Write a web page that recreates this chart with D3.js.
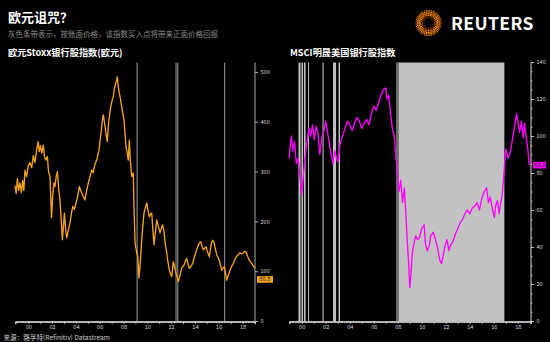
<!DOCTYPE html>
<html><head><meta charset="utf-8">
<script src="https://cdn.jsdelivr.net/npm/d3@7"></script>
<style>
html,body{margin:0;padding:0;background:#000;}
svg{display:block;}
text{font-family:"Noto Sans CJK SC","Open Sans","Noto Sans",sans-serif;}
</style></head><body>
<svg id="chart" width="550" height="342"></svg>
<script>
// Euro Stoxx banks index (EUR), decimal years
const euroYears = [1998.88,1998.98,1999.08,1999.18,1999.30,1999.42,1999.52,1999.62,1999.72,1999.85,2000.00,2000.14,2000.28,2000.42,2000.55,2000.71,2000.82,2000.92,2001.02,2001.13,2001.26,2001.36,2001.46,2001.60,2001.70,2001.82,2001.95,2002.05,2002.15,2002.24,2002.34,2002.44,2002.56,2002.66,2002.76,2002.86,2002.95,2003.03,2003.13,2003.23,2003.36,2003.50,2003.62,2003.73,2003.87,2004.01,2004.15,2004.29,2004.39,2004.49,2004.62,2004.76,2004.90,2005.04,2005.18,2005.33,2005.45,2005.55,2005.65,2005.75,2005.85,2005.94,2006.02,2006.11,2006.20,2006.30,2006.38,2006.45,2006.55,2006.64,2006.72,2006.81,2006.91,2007.01,2007.08,2007.14,2007.22,2007.31,2007.40,2007.48,2007.56,2007.65,2007.75,2007.85,2007.95,2008.04,2008.12,2008.21,2008.32,2008.40,2008.49,2008.55,2008.69,2008.82,2008.88,2008.97,2009.11,2009.20,2009.30,2009.42,2009.53,2009.62,2009.72,2009.84,2009.95,2010.06,2010.17,2010.27,2010.37,2010.46,2010.56,2010.68,2010.79,2010.93,2011.07,2011.18,2011.29,2011.40,2011.49,2011.56,2011.63,2011.74,2011.85,2011.95,2012.05,2012.12,2012.18,2012.30,2012.41,2012.51,2012.61,2012.75,2012.89,2012.98,2013.08,2013.20,2013.31,2013.42,2013.53,2013.68,2013.82,2013.95,2014.09,2014.19,2014.29,2014.39,2014.49,2014.60,2014.71,2014.82,2014.93,2015.07,2015.21,2015.31,2015.41,2015.51,2015.61,2015.72,2015.83,2015.94,2016.05,2016.15,2016.25,2016.36,2016.47,2016.57,2016.67,2016.81,2016.95,2017.09,2017.23,2017.37,2017.51,2017.65,2017.79,2017.93,2018.07,2018.18,2018.29,2018.43,2018.57,2018.72,2018.86,2018.96,2019.05];
const euroValues = [272,256,286,262,277,258,282,262,303,290,312,318,308,332,318,345,360,340,352,337,353,330,323,330,300,290,207,252,277,270,290,300,262,243,205,163,190,217,185,167,182,197,215,230,224,237,250,270,262,257,250,243,262,277,290,303,298,310,318,323,334,343,360,377,398,414,402,390,372,360,392,410,428,440,446,450,465,474,482,490,470,457,445,430,416,404,378,350,335,323,363,330,290,297,230,157,137,130,86,120,163,190,217,228,237,222,209,215,217,185,153,178,203,190,177,186,193,180,157,147,137,118,102,95,89,104,119,108,96,88,79,92,106,109,112,120,126,114,106,110,116,128,139,146,153,157,159,150,143,146,149,138,129,145,159,162,157,145,133,128,122,112,102,106,109,96,82,92,102,110,116,124,129,134,137,135,137,140,139,130,122,117,112,109,106,95,86.8];

// MSCI US banks index, decimal years
const usYears = [1998.94,1999.05,1999.15,1999.25,1999.40,1999.55,1999.70,1999.85,2000.00,2000.15,2000.30,2000.45,2000.60,2000.75,2000.90,2001.05,2001.20,2001.35,2001.50,2001.70,2001.85,2002.00,2002.20,2002.40,2002.60,2002.75,2002.90,2003.05,2003.20,2003.40,2003.60,2003.80,2004.00,2004.20,2004.40,2004.60,2004.80,2005.00,2005.20,2005.40,2005.60,2005.80,2006.00,2006.20,2006.40,2006.60,2006.80,2007.00,2007.10,2007.25,2007.40,2007.55,2007.70,2007.85,2007.95,2008.10,2008.25,2008.40,2008.55,2008.70,2008.80,2008.90,2009.00,2009.10,2009.20,2009.35,2009.50,2009.65,2009.80,2010.00,2010.20,2010.30,2010.45,2010.60,2010.75,2010.95,2011.10,2011.30,2011.50,2011.65,2011.80,2011.95,2012.10,2012.25,2012.40,2012.60,2012.80,2013.00,2013.20,2013.40,2013.60,2013.80,2014.00,2014.20,2014.40,2014.60,2014.80,2015.00,2015.20,2015.40,2015.55,2015.70,2015.90,2016.05,2016.15,2016.30,2016.45,2016.55,2016.70,2016.85,2016.92,2017.00,2017.20,2017.40,2017.50,2017.70,2017.90,2018.05,2018.15,2018.30,2018.45,2018.55,2018.70,2018.85,2018.95,2019.08];
const usValues = [88,95,100,92,97,85,88,78,68,80,90,97,104,100,106,98,105,102,90,100,103,108,100,92,85,92,88,86,96,100,104,108,106,103,107,110,108,104,107,109,106,112,116,114,118,122,125,126,120,122,112,104,100,88,82,70,76,64,72,55,42,32,18,25,36,42,46,44,45,50,52,42,38,40,46,48,45,40,33,31,36,41,44,38,41,43,47,50,53,55,58,60,58,61,62,64,60,66,70,72,64,67,60,56,62,65,58,63,68,80,87,93,88,92,96,104,112,106,102,108,99,107,99,92,84.3];

// Shaded buy-point periods [start, end]
const euroBands = [[2009.10,2009.17],[2012.37,2012.44],[2012.52,2012.59],[2016.46,2016.53]];
const usBands = [[1999.73,1999.90],[1999.98,2000.11],[2000.19,2000.32],[2000.53,2000.60],[2001.73,2001.82],[2002.61,2002.86],[2003.07,2003.19],[2008.05,2016.88]];
const usDarkBands = [[2007.86,2008.05]];

const yearTicks = [2000,2002,2004,2006,2008,2010,2012,2014,2016,2018];
const euroYTicks = [0,100,200,300,400,500];
const usYTicks = [0,20,40,60,80,100,120,140];
const euroLast = "86.8", usLast = "84.3";

const svg = d3.select("#chart");
const ORANGE = "#f7a21b", MAGENTA = "#ff00ff";
const plotTop = 62.5, plotBase = 321.5;

// header
svg.append("text").attr("x",8).attr("y",22).attr("fill","#fff")
  .attr("font-size",13).attr("font-weight",700).text("欧元诅咒？");
svg.append("text").attr("x",8).attr("y",36.5).attr("fill","#8a8a8a")
  .attr("font-size",7.5).text("灰色条带表示，按账面价格，该指数买入点将带来正面价格回报");
svg.append("text").attr("x",8).attr("y",56).attr("fill","#fff")
  .attr("font-size",9.2).attr("font-weight",700).text("欧元Stoxx银行股指数(欧元)");
svg.append("text").attr("x",290).attr("y",56).attr("fill","#fff")
  .attr("font-size",9.2).attr("font-weight",700).text("MSCI明晟美国银行股指数");
svg.append("text").attr("x",3.5).attr("y",340).attr("fill","#cfcfcf")
  .attr("font-size",6.6).text("来源：路孚特(Refinitiv) Datastream");

// logo
const logo = svg.append("g").attr("transform","translate(428.5,23)");
const rings = [[4.6,0.45],[6.2,0.6],[7.8,0.75],[9.4,0.85],[11.0,0.8],[12.5,0.6]];
rings.forEach(([r,s],i)=>{
  const n = Math.round(2*Math.PI*r/1.75);
  for(let k=0;k<n;k++){
    const a = (k+(i%2)*0.5)/n*2*Math.PI;
    logo.append("circle").attr("cx",r*Math.cos(a)).attr("cy",r*Math.sin(a))
      .attr("r",s).attr("fill", i<2 ? "#c85a00" : "#ff8a10");
  }
});
svg.append("text").attr("x",451).attr("y",29.5).attr("fill","#fff")
  .attr("font-family","'Open Sans',sans-serif").attr("font-size",17.5)
  .attr("font-weight",600).attr("letter-spacing",0.4).text("REUTERS");

function panel(opts){
  const {x, y, years, values, bands, darkBands, color, yTicks, minorStep, last, axisX} = opts;
  const g = svg.append("g");
  // bands
  bands.forEach(([a,b])=>{
    g.append("rect").attr("x",x(a)).attr("y",plotTop)
      .attr("width",Math.max(1,x(b)-x(a))).attr("height",plotBase-plotTop)
      .attr("fill",opts.bandColor);
  });
  (darkBands||[]).forEach(([a,b])=>{
    g.append("rect").attr("x",x(a)).attr("y",plotTop)
      .attr("width",Math.max(1,x(b)-x(a))).attr("height",plotBase-plotTop)
      .attr("fill","#6e6e6e");
  });
  // x axis: quarterly minor ticks + labelled biennial ticks
  const minor = d3.range(Math.ceil(x.domain()[0]*4)/4, x.domain()[1], 0.25);
  const gx = g.append("g").attr("transform",`translate(0,${plotBase})`);
  gx.call(d3.axisBottom(x).tickValues(minor).tickSize(1.6).tickFormat(""));
  gx.append("g").call(d3.axisBottom(x).tickValues(d3.range(1999,2020)).tickSize(2.6).tickFormat(""));
  gx.append("g").call(d3.axisBottom(x).tickValues(yearTicks).tickSize(0).tickPadding(3.6)
      .tickFormat(d=>String(d%100).padStart(2,"0")));
  gx.selectAll("path.domain").attr("stroke","#d0d0d0").attr("stroke-width",0.9);
  gx.selectAll("g.tick line").attr("stroke","#d0d0d0").attr("stroke-width",0.7);
  gx.selectAll("text").attr("fill","#d8d8d8").attr("font-size",5.6)
    .attr("font-family","'Open Sans',sans-serif");
  // y axis on the right
  const gy = g.append("g").attr("transform",`translate(${axisX},0)`);
  if(minorStep){
    gy.append("g").call(d3.axisRight(y).tickValues(d3.range(0,y.domain()[1]+0.1,minorStep)).tickSize(1.5).tickFormat(""));
  }
  gy.append("g").call(d3.axisRight(y).tickValues(yTicks).tickSize(3).tickPadding(2.5));
  gy.selectAll("path.domain").remove();
  gy.append("line").attr("x1",0).attr("x2",0).attr("y1",plotTop).attr("y2",plotBase)
    .attr("stroke",opts.axisColor).attr("stroke-width",1);
  gy.selectAll("g.tick line").attr("stroke","#d8d8d8").attr("stroke-width",0.8);
  gy.selectAll("text").attr("fill","#d8d8d8").attr("font-size",5.6)
    .attr("font-family","'Open Sans',sans-serif");
  // series
  const line = d3.line().x((d,i)=>x(years[i])).y(d=>y(d));
  g.append("path").datum(values).attr("d",line).attr("fill","none")
    .attr("stroke",color).attr("stroke-width",1.35).attr("stroke-linejoin","round");
  // last value tag, nudged below so it clears the nearest tick label
  const lv = +last, ty = y(lv) + opts.tagShift;
  g.append("rect").attr("x",axisX+2).attr("y",ty-3.2).attr("width",opts.tagW).attr("height",6.6).attr("fill",color);
  g.append("text").attr("x",axisX+2+opts.tagW/2).attr("y",ty+2).attr("text-anchor","middle")
    .attr("font-size",5.6).attr("fill","#222").attr("font-family","'Open Sans',sans-serif").text(last);
}

const xL = d3.scaleLinear().domain([1998.88,2019.05]).range([15,255]);
const yL = d3.scaleLinear().domain([0,520]).range([321,62]);
panel({x:xL, y:yL, years:euroYears, values:euroValues, bands:euroBands, color:ORANGE,
  yTicks:euroYTicks, minorStep:0, last:euroLast, axisX:255, bandColor:"#9c9c9c",
  axisColor:"#a8a8a8", tagW:16, tagShift:1.6});

const xR = d3.scaleLinear().domain([1998.94,2019.1]).range([289,531]);
const yR = d3.scaleLinear().domain([0,140]).range([321,62]);
panel({x:xR, y:yR, years:usYears, values:usValues, bands:usBands, darkBands:usDarkBands,
  color:MAGENTA, yTicks:usYTicks, minorStep:5, last:usLast, axisX:531, bandColor:"#c2c2c2",
  axisColor:"#e0e0e0", tagW:13, tagShift:0});
</script>
</body></html>
